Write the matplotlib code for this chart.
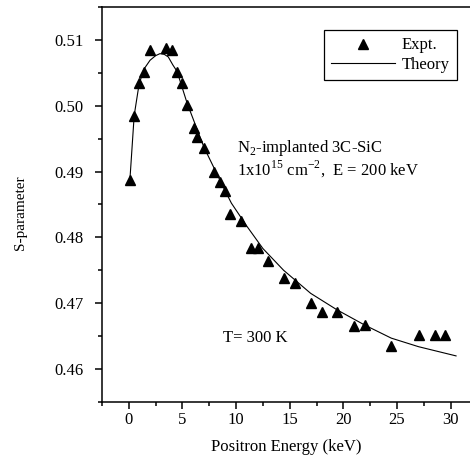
import matplotlib
matplotlib.use('Agg')
from matplotlib import pyplot as plt
from matplotlib.ticker import MultipleLocator, FormatStrFormatter

plt.rcParams['font.family'] = ['Liberation Serif', 'DejaVu Serif']
plt.rcParams['mathtext.fontset'] = 'custom'
plt.rcParams['mathtext.rm'] = 'Liberation Serif'

# experimental points
expt_e = [0.1, 0.5, 0.96, 1.43, 1.98, 3.45, 4.0, 4.5, 4.93, 5.43, 6.05, 6.4, 7.0,
          7.94, 8.47, 8.94, 9.4, 10.5, 11.4, 12.0, 12.97, 14.43, 15.46, 16.95,
          18.0, 19.4, 20.95, 21.97, 24.46, 27.0, 28.5, 29.5]
expt_s = [0.4887, 0.4985, 0.5034, 0.5051, 0.5084, 0.5087, 0.5084, 0.5051, 0.5034,
          0.5001, 0.4966, 0.4953, 0.4935, 0.4900, 0.4884, 0.4870, 0.4835, 0.4825,
          0.4784, 0.4784, 0.4764, 0.4738, 0.4731, 0.4700, 0.4687, 0.4687, 0.4665,
          0.4667, 0.4635, 0.4652, 0.4652, 0.4652]

# theory curve
theo_e = [0.1, 0.5, 0.96, 1.43, 1.98, 2.5, 2.9, 3.3, 3.68, 4.1, 4.5, 5.43, 7.0,
          8.94, 9.56, 11.0, 12.5, 14.43, 16.95, 19.4, 21.97, 24.46, 27.0, 30.5]
theo_s = [0.4887, 0.4985, 0.5033, 0.5056, 0.5069, 0.5076, 0.5079, 0.5078, 0.5074,
          0.5062, 0.5052, 0.5004, 0.4937, 0.4872, 0.4852, 0.4817, 0.4783, 0.4750,
          0.4715, 0.4690, 0.4667, 0.4647, 0.4634, 0.4620]

fs = 12

fig = plt.figure(figsize=(4.70, 4.61), dpi=100)
ax = fig.add_axes([0.217, 0.128, 0.783, 0.857])

ax.plot(theo_e, theo_s, '-', color='k', lw=0.8, label='Theory')
ax.plot(expt_e, expt_s, '^', color='k', ms=6.8, ls='none', label='Expt.')

ax.set_xlim(-2.5, 31.8)
ax.set_ylim(0.455, 0.515)
ax.xaxis.set_major_locator(MultipleLocator(5))
ax.xaxis.set_minor_locator(MultipleLocator(2.5))
ax.yaxis.set_major_locator(MultipleLocator(0.01))
ax.yaxis.set_minor_locator(MultipleLocator(0.005))
ax.yaxis.set_major_formatter(FormatStrFormatter('%.2f'))
ax.tick_params(which='major', direction='out', length=5, width=1.1, labelsize=fs)
ax.tick_params(which='minor', direction='out', length=3, width=1.1)
ax.tick_params(axis='y', which='major', pad=8)
ax.tick_params(axis='x', which='major', pad=2)
for s in ['left', 'bottom', 'top']:
    ax.spines[s].set_linewidth(1.1)
ax.spines['right'].set_visible(False)

ax.set_xlabel('Positron Energy (keV)', fontsize=fs, labelpad=8)
ax.set_ylabel('S-parameter', fontsize=11)
ax.yaxis.set_label_coords(-0.205, 0.478)

h, l = ax.get_legend_handles_labels()
leg = ax.legend([h[1], h[0]], [l[1], l[0]], loc='upper right',
                bbox_to_anchor=(0.972, 0.935), bbox_transform=fig.transFigure,
                fancybox=False, edgecolor='k', framealpha=1, fontsize=fs,
                handlelength=3.8, borderpad=0.45, labelspacing=0.2,
                handletextpad=0.4, borderaxespad=0)
leg.get_frame().set_linewidth(0.9)

ax.text(10.1, 0.4929, 'N$_{2}$-implanted 3C-SiC', fontsize=fs)
ax.text(10.1, 0.4894, '1x10$^{15}$ cm$^{-2}$,  E = 200 keV', fontsize=fs)
ax.text(8.75, 0.4641, 'T= 300 K', fontsize=fs)

plt.savefig('out.png', dpi=100)
